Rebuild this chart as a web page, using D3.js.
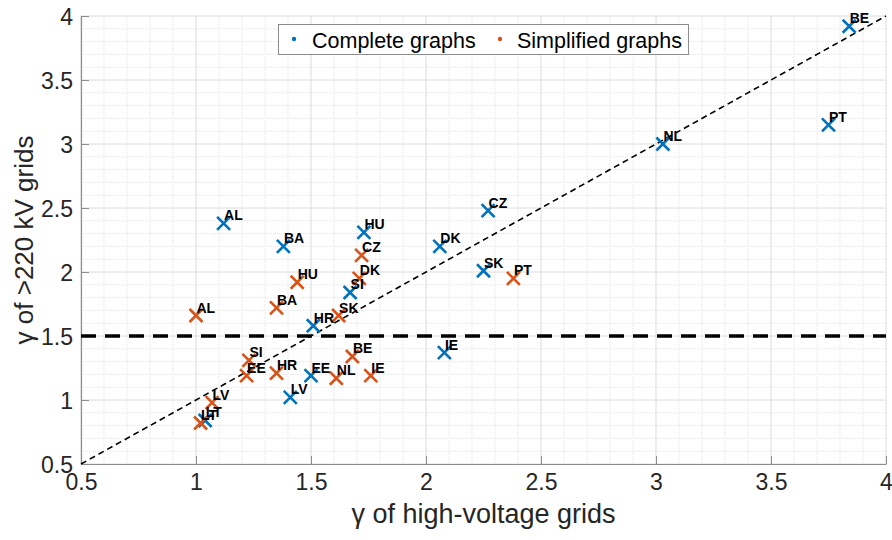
<!DOCTYPE html>
<html><head><meta charset="utf-8">
<script src="https://cdn.jsdelivr.net/npm/d3@7"></script>
<style>body{margin:0;background:#fff}svg{display:block}</style>
</head><body><svg id="c" width="892" height="540"></svg>
<script>
const completeLabels = ["BE","PT","NL","CZ","DK","SK","IE","AL","BA","HU","SI","HR","EE","LV","LT"];
const completeX = [3.84,3.75,3.03,2.27,2.06,2.25,2.08,1.12,1.38,1.73,1.67,1.51,1.50,1.41,1.04];
const completeY = [3.92,3.15,3.00,2.48,2.20,2.01,1.37,2.38,2.20,2.31,1.84,1.58,1.19,1.02,0.84];
const simplifiedLabels = ["AL","BA","HU","CZ","DK","SK","SI","EE","HR","BE","NL","IE","LV","LT","PT"];
const simplifiedX = [1.00,1.35,1.44,1.72,1.71,1.62,1.23,1.22,1.35,1.68,1.61,1.76,1.07,1.02,2.38];
const simplifiedY = [1.66,1.72,1.92,2.13,1.95,1.66,1.31,1.19,1.21,1.34,1.17,1.19,0.98,0.82,1.95];
const tickValues = [0.5,1,1.5,2,2.5,3,3.5,4];
const tickLabels = ["0.5","1","1.5","2","2.5","3","3.5","4"];
const threshold = 1.5;
const seriesNames = ["Complete graphs","Simplified graphs"];

const W=892,H=540, L=81, R=886, T=16, B=464;
const FONT = "Liberation Sans, Arial, Helvetica, sans-serif";
const svg = d3.select("#c");
const x = d3.scaleLinear().domain([0.5,4]).range([L,R]);
const y = d3.scaleLinear().domain([0.5,4]).range([B,T]);
const blue="#0072BD", orange="#D95319";

// minor grid
const minor = d3.range(5,41).map(d=>d/10).filter(v=>Math.abs(v*2-Math.round(v*2))>1e-6);
const g = svg.append("g");
g.selectAll(".mx").data(minor).join("line").attr("x1",d=>x(d)).attr("x2",d=>x(d)).attr("y1",T).attr("y2",B)
 .attr("stroke","#e3e3e3").attr("stroke-width",1).attr("stroke-dasharray","1,1");
g.selectAll(".my").data(minor).join("line").attr("y1",d=>y(d)).attr("y2",d=>y(d)).attr("x1",L).attr("x2",R)
 .attr("stroke","#e3e3e3").attr("stroke-width",1).attr("stroke-dasharray","1,1");
// major grid
g.selectAll(".Mx").data(tickValues).join("line").attr("x1",d=>x(d)).attr("x2",d=>x(d)).attr("y1",T).attr("y2",B)
 .attr("stroke","#dcdcdc").attr("stroke-width",1);
g.selectAll(".My").data(tickValues).join("line").attr("y1",d=>y(d)).attr("y2",d=>y(d)).attr("x1",L).attr("x2",R)
 .attr("stroke","#dcdcdc").attr("stroke-width",1);

// axes
const xAxis = d3.axisBottom(x).tickValues(tickValues).tickFormat((d,i)=>tickLabels[i]).tickSizeInner(-8).tickSizeOuter(0).tickPadding(10);
const yAxis = d3.axisLeft(y).tickValues(tickValues).tickFormat((d,i)=>tickLabels[i]).tickSizeInner(-8).tickSizeOuter(0).tickPadding(8);
const ax = svg.append("g").attr("transform",`translate(0,${B})`).call(xAxis);
const ay = svg.append("g").attr("transform",`translate(${L},0)`).call(yAxis);
[ax,ay].forEach(a=>{
  a.select(".domain").attr("stroke","#8c8c8c").attr("stroke-width",1.2);
  a.selectAll(".tick line").attr("stroke","#8c8c8c").attr("stroke-width",1);
  a.selectAll(".tick text").attr("fill","#262626").style("font-family",FONT).style("font-size","23px");
});
ax.selectAll(".tick text").attr("dy","0.71em");
ay.selectAll(".tick text").attr("dy","0.35em");

// axis titles
svg.append("text").attr("x",(L+R)/2).attr("y",523).attr("text-anchor","middle")
 .style("font-family",FONT).style("font-size","27px").attr("fill","#262626")
 .text("γ of high-voltage grids");
svg.append("text").attr("transform",`translate(33,${(T+B)/2}) rotate(-90)`).attr("text-anchor","middle")
 .style("font-family",FONT).style("font-size","26px").attr("fill","#262626")
 .text("γ of >220 kV grids");

// reference lines
svg.append("line").attr("x1",x(0.5)).attr("y1",y(0.5)).attr("x2",x(4)).attr("y2",y(4))
 .attr("stroke","#000").attr("stroke-width",1.6).attr("stroke-dasharray","6,4");
svg.append("line").attr("x1",L).attr("x2",R).attr("y1",y(threshold)).attr("y2",y(threshold))
 .attr("stroke","#000").attr("stroke-width",3.5).attr("stroke-dasharray","15,9");

// markers
function drawSeries(xs, ys, labels, color){
  const data = xs.map((v,i)=>({x:v,y:ys[i],l:labels[i]}));
  const s = 6.5;
  const gg = svg.append("g");
  gg.selectAll("path").data(data).join("path")
    .attr("d",d=>{const cx=x(d.x),cy=y(d.y);return `M${cx-s},${cy-s}L${cx+s},${cy+s}M${cx-s},${cy+s}L${cx+s},${cy-s}`;})
    .attr("stroke",color).attr("stroke-width",2.6).attr("fill","none");
  return data;
}
const dc = drawSeries(completeX, completeY, completeLabels, blue);
const ds = drawSeries(simplifiedX, simplifiedY, simplifiedLabels, orange);
const labs = svg.append("g");
dc.concat(ds).forEach(d=>{
  labs.append("text").attr("x",x(d.x)+0.5).attr("y",y(d.y)-3)
   .style("font-family",FONT).style("font-size","14px").style("font-weight","bold")
   .attr("fill","#000").text(d.l);
});

// legend
const lg = svg.append("g");
lg.append("rect").attr("x",278.5).attr("y",24.5).attr("width",410).attr("height",30)
 .attr("fill","#fff").attr("stroke","#8c8c8c").attr("stroke-width",1);
[[blue,294,312,seriesNames[0]],[orange,500,517,seriesNames[1]]].forEach(([c,dx,tx,t])=>{
  lg.append("circle").attr("cx",dx).attr("cy",39).attr("r",2.2).attr("fill",c);
  lg.append("text").attr("x",tx).attr("y",48).style("font-family",FONT)
   .style("font-size","21.5px").attr("fill","#000").text(t);
});
</script></body></html>
